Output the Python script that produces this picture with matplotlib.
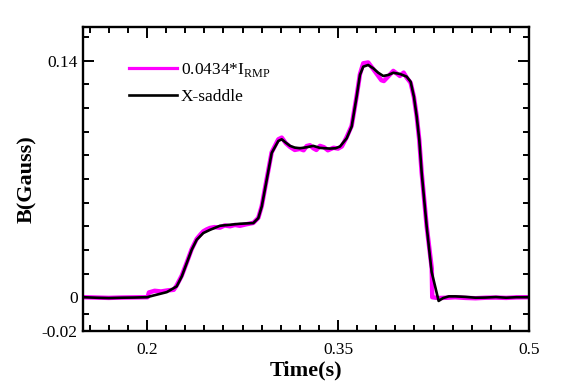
import numpy as np
import matplotlib
matplotlib.use("Agg")
import matplotlib.pyplot as plt
from matplotlib.ticker import FixedLocator
from matplotlib.lines import Line2D

plt.rcParams['font.family'] = ['Liberation Serif', 'DejaVu Serif']
plt.rcParams['mathtext.fontset'] = 'custom'
plt.rcParams['mathtext.rm'] = 'Liberation Serif'

# X-saddle signal (black)
t_saddle = [0.150, 0.160, 0.170, 0.180, 0.190, 0.200, 0.205, 0.2155, 0.2233, 0.2273,
            0.2312, 0.2351, 0.2390, 0.2442, 0.2495, 0.2573, 0.2652, 0.2730, 0.2835, 0.2874,
            0.2901, 0.2940, 0.2979, 0.3031, 0.3058, 0.3090, 0.3123, 0.3160, 0.3201, 0.3254,
            0.3306, 0.3358, 0.3400, 0.3437, 0.3480, 0.3515, 0.3568, 0.3607, 0.3646, 0.3672,
            0.3698, 0.3737, 0.3777, 0.3816, 0.3855, 0.3895, 0.3934, 0.3986, 0.4039, 0.4070,
            0.4096, 0.4118, 0.4138, 0.4157, 0.4196, 0.4235, 0.4290, 0.4325, 0.4370, 0.4420,
            0.4500, 0.4580, 0.4660, 0.4740, 0.4820, 0.4900, 0.5000]
b_saddle = [0.0000, -0.0003, -0.0005, -0.0003, -0.0002, 0.0000, 0.0010, 0.0030, 0.0064, 0.0123,
            0.0202, 0.0281, 0.0340, 0.0380, 0.0399, 0.0423, 0.0429, 0.0435, 0.0439, 0.0468,
            0.0537, 0.0695, 0.0854, 0.0925, 0.0935, 0.0915, 0.0896, 0.0886, 0.0882, 0.0888,
            0.0896, 0.0884, 0.0882, 0.0880, 0.0882, 0.0892, 0.0941, 0.1010, 0.1187, 0.1316,
            0.1365, 0.1375, 0.1355, 0.1329, 0.1310, 0.1316, 0.1329, 0.1322, 0.1306, 0.1276,
            0.1187, 0.1069, 0.0931, 0.0736, 0.0420, 0.0150, -0.0022, -0.0005, 0.0005, 0.0005,
            0.0002, -0.0003, -0.0002, 0.0001, -0.0003, 0.0000, 0.0000]

# scaled coil current 0.0434*I_RMP (magenta), noisier trace
t_rmp = [0.150, 0.160, 0.170, 0.180, 0.190, 0.2005, 0.2015, 0.2060, 0.2110, 0.2160,
         0.2210, 0.2233, 0.2273, 0.2312, 0.2351, 0.2390, 0.2420, 0.2442, 0.2470, 0.2495,
         0.2530, 0.2573, 0.2610, 0.2652, 0.2690, 0.2730, 0.2780, 0.2835, 0.2874, 0.2901,
         0.2940, 0.2979, 0.3031, 0.3058, 0.3090, 0.3123, 0.3160, 0.3201, 0.3230, 0.3254,
         0.3280, 0.3306, 0.3330, 0.3358, 0.3390, 0.3420, 0.3465, 0.3500, 0.3530, 0.3568,
         0.3607, 0.3646, 0.3672, 0.3698, 0.3737, 0.3777, 0.3816, 0.3840, 0.3860, 0.3895,
         0.3934, 0.3960, 0.3986, 0.4015, 0.4039, 0.4070, 0.4096, 0.4118, 0.4138, 0.4157,
         0.4196, 0.4236, 0.4240, 0.4290, 0.4350, 0.4420, 0.4500, 0.4580, 0.4660, 0.4740,
         0.4820, 0.4900, 0.5000]
b_rmp = [0.0000, -0.0002, -0.0004, -0.0002, -0.0001, 0.0000, 0.0028, 0.0038, 0.0034, 0.0040,
         0.0044, 0.0070, 0.0128, 0.0205, 0.0285, 0.0345, 0.0372, 0.0390, 0.0402, 0.0410,
         0.0415, 0.0412, 0.0425, 0.0420, 0.0428, 0.0423, 0.0432, 0.0440, 0.0470, 0.0540,
         0.0700, 0.0858, 0.0935, 0.0945, 0.0912, 0.0890, 0.0872, 0.0878, 0.0870, 0.0895,
         0.0900, 0.0882, 0.0872, 0.0896, 0.0888, 0.0870, 0.0885, 0.0880, 0.0893, 0.0948,
         0.1015, 0.1190, 0.1320, 0.1385, 0.1390, 0.1350, 0.1310, 0.1285, 0.1280, 0.1308,
         0.1340, 0.1325, 0.1310, 0.1330, 0.1300, 0.1270, 0.1185, 0.1070, 0.0930, 0.0736,
         0.0420, 0.0170, 0.0000, -0.0005, -0.0003, 0.0000, -0.0004, -0.0006, -0.0003, -0.0002,
         -0.0004, -0.0001, 0.0000]

x_major = [0.2, 0.35, 0.5]
x_labels = ['0.2', '0.35', '0.5']
y_major = [-0.02, 0.0, 0.14]
y_labels = ['-0.02', '0', '0.14']

fig = plt.figure(figsize=(5.63, 3.9), dpi=100)
ax = fig.add_axes([0.148, 0.1513, 0.7917, 0.7795])

ax.plot(t_rmp, b_rmp, color='#ff00ff', lw=3.2)
ax.plot(t_saddle, b_saddle, color='black', lw=1.9)

ax.set_xlim(0.15, 0.5)
ax.set_ylim(-0.02, 0.16)
ax.set_xticks(x_major)
ax.set_xticklabels(x_labels)
ax.set_yticks(y_major)
ax.set_yticklabels(y_labels)
ax.xaxis.set_minor_locator(FixedLocator(np.arange(0.155, 0.5, 0.015)))
ax.yaxis.set_minor_locator(FixedLocator([-0.01] + [0.014 * k for k in range(1, 10)] + [0.154]))

ax.tick_params(which='both', direction='in', top=True, right=True, width=1.4, labelsize=12.5)
ax.tick_params(which='major', length=8)
ax.tick_params(which='minor', length=4.5)
ax.tick_params(axis='x', pad=8)
ax.tick_params(axis='y', pad=4)
for sp in ax.spines.values():
    sp.set_linewidth(1.7)

ax.set_xlabel('Time(s)', fontsize=16, fontweight='bold', labelpad=2)
ax.set_ylabel('B(Gauss)', fontsize=16, fontweight='bold', labelpad=3)

handles = [Line2D([], [], color='#ff00ff', lw=2.3), Line2D([], [], color='black', lw=1.9)]
labels = ['0.0434*I$_{\\mathregular{RMP}}$', 'X-saddle']
ax.legend(handles, labels, loc='upper left', bbox_to_anchor=(0.1025, 0.889), frameon=False,
          fontsize=12.5, handlelength=2.74, handletextpad=0.25, labelspacing=0.6,
          borderpad=0, borderaxespad=0)

fig.savefig('out.png', dpi=100)
